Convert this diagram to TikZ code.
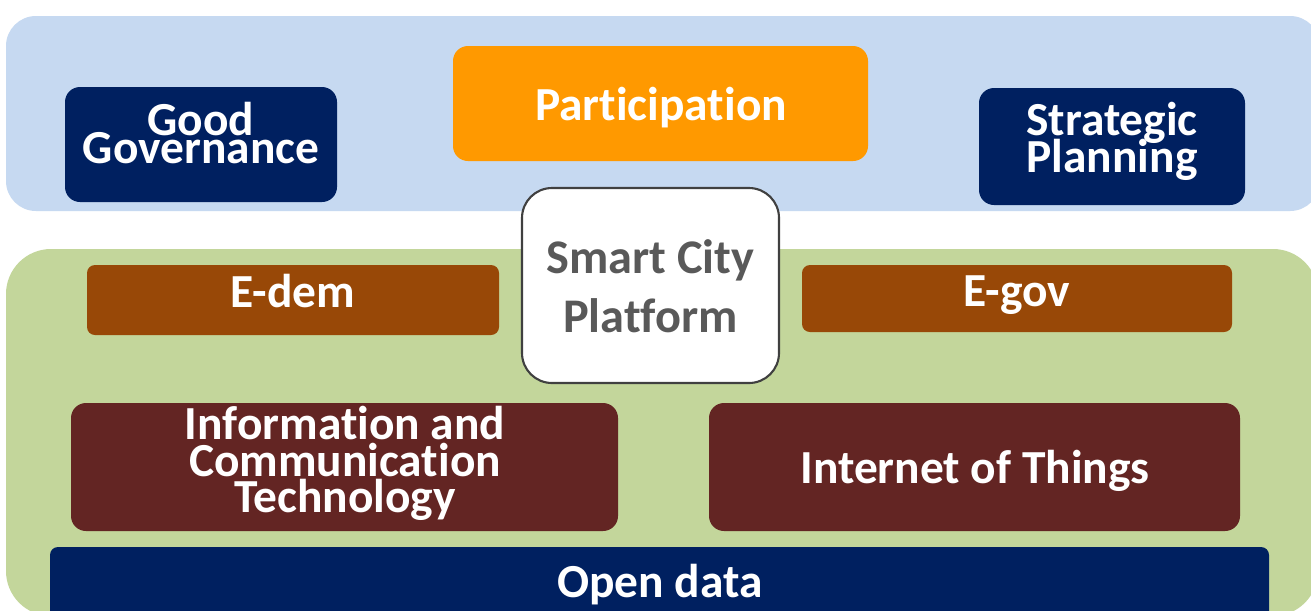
\documentclass[tikz,border=0pt]{standalone}
\usepackage{fontspec}
\setmainfont{Carlito}[Ligatures=NoCommon]
\definecolor{bandblue}{HTML}{C6D9F1}
\definecolor{bandgreen}{HTML}{C3D69B}
\definecolor{navy}{HTML}{002060}
\definecolor{orangeP}{HTML}{FF9900}
\definecolor{brownE}{HTML}{984807}
\definecolor{darkred}{HTML}{632523}
\definecolor{grayT}{HTML}{595959}
\definecolor{grayB}{HTML}{404040}
\tikzset{
  pbox/.style={rectangle, rounded corners=15*0.02cm, inner sep=0pt},
  ebox/.style={rectangle, rounded corners=8*0.02cm, inner sep=0pt},
  lbl/.style={anchor=base, inner sep=0pt, text=white, font=\fontsize{27}{32}\selectfont\bfseries},
  glbl/.style={anchor=base, inner sep=0pt, text=grayT, font=\fontsize{27.5}{33}\selectfont\bfseries},
}
\begin{document}
\begin{tikzpicture}[x=0.02cm,y=-0.02cm]
\clip (0,0) rectangle (1311,610);
\fill[white] (0,0) rectangle (1311,610);
% bands
\fill[bandblue, rounded corners=30*0.02cm] (6,16) rectangle (1320,211);
\fill[bandgreen, rounded corners=45*0.02cm] (6,249) rectangle (1318,616);
% top row
\node[pbox, fill=navy, minimum width=272*0.02cm, minimum height=115*0.02cm] (gg) at (201,144.5) {};
\node[lbl] (gg1) at (201,135) {Good};
\node[lbl] (gg2) at (201,163) {Governance};
\node[pbox, fill=orangeP, minimum width=415*0.02cm, minimum height=115*0.02cm] (part) at (660.5,103.5) {};
\node[lbl] (partT) at (661,120) {Participation};
\node[pbox, fill=navy, minimum width=266*0.02cm, minimum height=117*0.02cm] (sp) at (1112,146.5) {};
\node[lbl] (sp1) at (1112,135) {Strategic};
\node[lbl] (sp2) at (1112,172) {Planning};
% middle row
\node[ebox, fill=brownE, minimum width=412*0.02cm, minimum height=70*0.02cm] (edem) at (293,300) {};
\node[lbl] (edemT) at (293,307) {E-dem};
\node[ebox, fill=brownE, minimum width=430*0.02cm, minimum height=67*0.02cm] (egov) at (1017,298.5) {};
\node[lbl] (egovT) at (1017,306) {E-gov};
% lower row
\node[pbox, fill=darkred, minimum width=547*0.02cm, minimum height=128*0.02cm] (ict) at (344.5,467) {};
\node[lbl] (ict1) at (345,439) {Information and};
\node[lbl] (ict2) at (345,476) {Communication};
\node[lbl] (ict3) at (345,512) {Technology};
\node[pbox, fill=darkred, minimum width=531*0.02cm, minimum height=128*0.02cm] (iot) at (974.5,467) {};
\node[lbl] (iotT) at (975,483) {Internet of Things};
% open data
\node[ebox, fill=navy, minimum width=1219*0.02cm, minimum height=78*0.02cm] (od) at (659.5,586) {};
\node[lbl] (odT) at (660,597) {Open data};
% platform
\node[rectangle, rounded corners=30*0.02cm, draw=grayB, line width=1.2pt, fill=white,
  minimum width=257*0.02cm, minimum height=195*0.02cm] (scp) at (650.5,285.5) {};
\node[glbl] (scp1) at (650.5,273) {Smart City};
\node[glbl] (scp2) at (650.5,332) {Platform};
\end{tikzpicture}
\end{document}
